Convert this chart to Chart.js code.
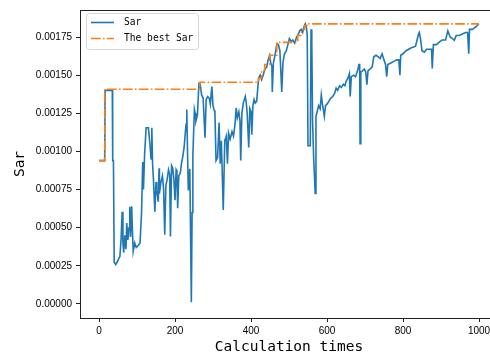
<!DOCTYPE html>
<html>
<head>
<meta charset="utf-8">
<script src="https://cdn.jsdelivr.net/npm/chart.js@4.4.1/dist/chart.umd.min.js"></script>
<style>
  html, body { margin: 0; padding: 0; background: #fff; overflow: hidden; }
  #wrap { width: 490px; height: 358px; overflow: hidden; }
</style>
</head>
<body>
<div id="wrap"><canvas id="sarChart" width="510" height="358"></canvas></div>
<script>
// Sar value at each calculation step
const sarX = [0, 15, 16, 35, 36, 38, 40, 44, 48, 51, 55, 58, 61, 63, 65, 68, 71, 73, 76, 79,
  81, 83, 86, 88, 90, 94, 98, 103, 108, 112, 115, 117, 120, 124, 130, 134, 137, 139, 141, 143,
  147, 150, 152, 156, 158, 159, 163, 167, 170, 173, 176, 179, 183, 186, 188, 191, 194, 197, 200, 203,
  205, 207, 210, 214, 217, 220, 224, 229, 231, 233, 235, 239, 243, 245, 247, 251, 253, 255, 259, 263,
  266, 270, 274, 279, 282, 286, 290, 293, 297, 300, 303, 305, 308, 312, 316, 319, 322, 327, 331, 335,
  338, 341, 345, 350, 354, 358, 361, 364, 368, 371, 373, 376, 380, 385, 387, 390, 394, 397, 400, 402,
  405, 408, 411, 415, 420, 424, 428, 432, 437, 441, 445, 449, 452, 455, 456, 459, 463, 468, 472, 476,
  481, 484, 488, 493, 497, 501, 506, 510, 515, 520, 525, 528, 532, 536, 540, 543, 546, 548, 550, 556,
  558, 560, 562, 565, 569, 571, 575, 578, 582, 585, 588, 593, 596, 600, 605, 610, 615, 620, 624, 628,
  633, 638, 643, 647, 650, 655, 659, 661, 664, 670, 675, 681, 684, 686, 687, 689, 694, 698, 702, 705,
  708, 713, 719, 723, 729, 735, 740, 745, 750, 754, 757, 760, 768, 776, 783, 789, 792, 794, 800, 808,
  815, 822, 828, 833, 838, 841, 843, 846, 850, 856, 862, 870, 875, 877, 880, 888, 897, 903, 912, 918,
  924, 930, 935, 940, 948, 956, 965, 970, 973, 975, 982, 988, 993, 997, 1000];
const sarY = [0.00094, 0.00094, 0.00140, 0.00140, 0.00094, 0.00094, 0.000274, 0.000259, 0.000275, 0.000292,
  0.000313, 0.000421, 0.000605, 0.00040, 0.000337, 0.00045, 0.00036, 0.00053, 0.00042, 0.00050,
  0.000637, 0.00044, 0.00064, 0.00048, 0.000345, 0.00040, 0.00037, 0.000384, 0.00040, 0.00060,
  0.00093, 0.00075, 0.00098, 0.001155, 0.001155, 0.00105, 0.00095, 0.001155, 0.00092, 0.00083,
  0.000605, 0.00080, 0.000745, 0.00067, 0.00089, 0.000724, 0.00080, 0.00084, 0.00075, 0.000454,
  0.00078, 0.00081, 0.00088, 0.00085, 0.000443, 0.000907, 0.00089, 0.00082, 0.00068, 0.00088,
  0.00087, 0.000627, 0.00084, 0.00086, 0.00092, 0.00096, 0.001026, 0.001177, 0.001275, 0.00100,
  0.000745, 0.000886, 0.000011, 0.00060, 0.00097, 0.001275, 0.00125, 0.00120, 0.00124, 0.001447,
  0.001447, 0.00137, 0.00135, 0.00109, 0.00134, 0.00136, 0.00135, 0.00131, 0.001426, 0.00130,
  0.00127, 0.00126, 0.00094, 0.00096, 0.00119, 0.00092, 0.00107, 0.000616, 0.00107, 0.00110,
  0.00092, 0.00112, 0.00108, 0.00113, 0.00110, 0.00118, 0.001285, 0.00122, 0.00126, 0.00120,
  0.00094, 0.00125, 0.00132, 0.00136, 0.00133, 0.00125, 0.001026, 0.00128, 0.00126, 0.00111,
  0.00130, 0.00134, 0.001317, 0.00133, 0.00148, 0.00150, 0.00147, 0.00150, 0.001544, 0.00155,
  0.00160, 0.00163, 0.00158, 0.00156, 0.00139, 0.00158, 0.00163, 0.001706, 0.00170, 0.00166,
  0.00139, 0.00158, 0.00164, 0.00166, 0.00170, 0.00174, 0.00172, 0.00173, 0.00171, 0.00175,
  0.00177, 0.00179, 0.00180, 0.00178, 0.00182, 0.001836, 0.00181, 0.00176, 0.001037, 0.001037,
  0.00180, 0.00172, 0.00120, 0.00095, 0.000724, 0.00123, 0.00127, 0.00130, 0.00128, 0.00137,
  0.00131, 0.00123, 0.00130, 0.00131, 0.00133, 0.00135, 0.00136, 0.00138, 0.001415, 0.00140,
  0.00143, 0.00142, 0.00144, 0.00143, 0.001458, 0.00148, 0.00151, 0.00136, 0.00149, 0.00150,
  0.00149, 0.001534, 0.00157, 0.00157, 0.00105, 0.00152, 0.00153, 0.00154, 0.00152, 0.001437,
  0.00153, 0.00154, 0.001555, 0.00162, 0.00163, 0.00162, 0.00161, 0.00164, 0.00160, 0.00157,
  0.00149, 0.00157, 0.00158, 0.00159, 0.00160, 0.00160, 0.00150, 0.00163, 0.00164, 0.00166,
  0.00167, 0.00168, 0.001685, 0.00169, 0.00174, 0.00177, 0.00178, 0.00174, 0.00166, 0.00165,
  0.00167, 0.00167, 0.00167, 0.001544, 0.00170, 0.00170, 0.00172, 0.00173, 0.00173, 0.00179,
  0.00175, 0.00174, 0.001728, 0.00176, 0.00176, 0.00177, 0.00178, 0.00178, 0.00164, 0.00180,
  0.00180, 0.00181, 0.00182, 0.00183, 0.001836];

// best Sar so far: the value changes at each of these steps
const bestX = [0, 15, 265, 420, 428, 436, 449, 468, 523, 533, 541, 548, 1000];
const bestY = [0.00094, 0.001408, 0.001453, 0.00148, 0.00153, 0.00157, 0.00163, 0.001715, 0.00176, 0.00180, 0.001825, 0.001836, 0.001836];

const xTicks = [0, 200, 400, 600, 800, 1000];
const yTicks = [0, 0.00025, 0.0005, 0.00075, 0.001, 0.00125, 0.0015, 0.00175];

const seriesNames = ["Sar", "The best Sar"];
const colors = ["#1f77b4", "#ff7f0e"];

const toPoints = (xs, ys) => xs.map((x, i) => ({ x: x, y: ys[i] }));

// hold the previous best until the step where it improves
function stepPoints(xs, ys) {
  const pts = [{ x: xs[0], y: ys[0] }];
  for (let i = 1; i < xs.length; i++) {
    pts.push({ x: xs[i], y: ys[i - 1] });
    pts.push({ x: xs[i], y: ys[i] });
  }
  return pts;
}

// matplotlib-like box (top spine) and legend in the upper-left corner
const framePlugin = {
  id: "frame",
  afterDraw(chart) {
    const { ctx, chartArea: a } = chart;
    ctx.save();
    ctx.strokeStyle = "#222";
    ctx.lineWidth = 1;
    ctx.strokeRect(a.left + 0.5, a.top + 0.5, a.right - a.left, a.bottom - a.top);

    // legend
    const bx = 86, by = 13, bw = 112, bh = 36;
    ctx.fillStyle = "rgba(255,255,255,0.8)";
    ctx.strokeStyle = "#d6d6d6";
    ctx.beginPath();
    ctx.roundRect(bx + 0.5, by + 0.5, bw, bh, 3);
    ctx.fill();
    ctx.stroke();
    ctx.font = "9.6px 'DejaVu Sans Mono', monospace";
    ctx.textBaseline = "middle";
    chart.data.datasets.forEach((ds, i) => {
      const y = by + 9.5 + i * 16;
      ctx.strokeStyle = ds.borderColor;
      ctx.lineWidth = 1.6;
      ctx.setLineDash(ds.borderDash || []);
      ctx.beginPath();
      ctx.moveTo(91, y);
      ctx.lineTo(114, y);
      ctx.stroke();
      ctx.setLineDash([]);
      ctx.fillStyle = "#000";
      ctx.fillText(ds.label, 124, y);
    });
    ctx.restore();
  }
};

new Chart(document.getElementById("sarChart"), {
  type: "line",
  data: {
    datasets: [
      {
        label: seriesNames[0],
        data: toPoints(sarX, sarY),
        borderColor: colors[0],
        borderWidth: 1.6,
        pointRadius: 0,
        tension: 0,
        order: 2
      },
      {
        label: seriesNames[1],
        data: stepPoints(bestX, bestY),
        borderColor: colors[1],
        borderWidth: 1.6,
        borderDash: [9.6, 2.4, 1.5, 2.4],
        pointRadius: 0,
        tension: 0,
        order: 1
      }
    ]
  },
  options: {
    responsive: false,
    animation: false,
    layout: { padding: { top: 8, right: 12, left: 0, bottom: 0 } },
    plugins: { legend: { display: false }, tooltip: { enabled: false } },
    scales: {
      x: {
        type: "linear",
        min: -50,
        max: 1050,
        afterBuildTicks: s => { s.ticks = xTicks.map(v => ({ value: v })); },
        afterFit: s => { s.height = 40; },
        grid: { drawOnChartArea: false, drawTicks: true, tickLength: 4, color: "#222" },
        border: { color: "#222" },
        ticks: {
          color: "#000",
          padding: 3,
          maxRotation: 0,
          callback: v => String(v),
          font: { family: "'Liberation Sans', Arial", size: 10 }
        },
        title: {
          display: true,
          text: "Calculation times",
          color: "#000",
          padding: { top: 0, bottom: 2 },
          font: { family: "'DejaVu Sans Mono', monospace", size: 14.5 }
        }
      },
      y: {
        min: -0.0000918,
        max: 0.001927,
        afterBuildTicks: s => { s.ticks = yTicks.map(v => ({ value: v })); },
        afterFit: s => { s.width = 80; },
        grid: { drawOnChartArea: false, drawTicks: true, tickLength: 4, color: "#222" },
        border: { color: "#222" },
        ticks: {
          color: "#000",
          padding: 4,
          callback: v => v.toFixed(5),
          font: { family: "'Liberation Sans', Arial", size: 10 }
        },
        title: {
          display: true,
          text: "Sar",
          color: "#000",
          padding: { top: 12, bottom: 0 },
          font: { family: "'DejaVu Sans Mono', monospace", size: 14.5 }
        }
      }
    }
  },
  plugins: [framePlugin]
});
</script>
</body>
</html>
